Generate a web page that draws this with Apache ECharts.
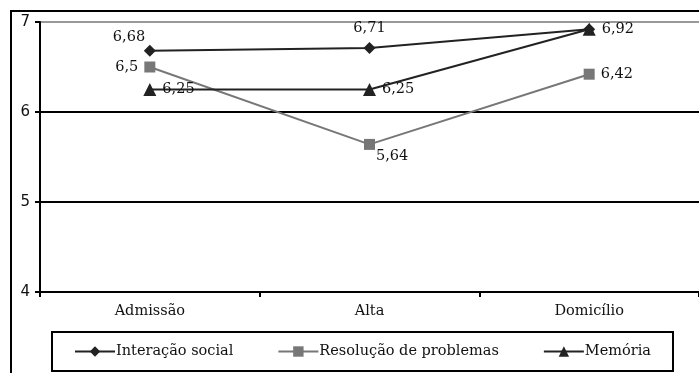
<!DOCTYPE html>
<html><head><meta charset="utf-8">
<script src="https://cdn.jsdelivr.net/npm/echarts@6/dist/echarts.min.js"></script>
<style>html,body{margin:0;padding:0;background:#fff}#c{width:699px;height:373px}</style>
</head><body><div id="c"></div>
<script>
const categories = ['Admissão', 'Alta', 'Domicílio'];
const interacaoSocial = [6.68, 6.71, 6.92];
const resolucaoProblemas = [6.5, 5.64, 6.42];
const memoria = [6.25, 6.25, 6.92];
const yTicks = [4, 5, 6, 7];

const FONT = '"DejaVu Serif", serif';
const FS = 14.5;
const fmt = p => String(p.value).replace('.', ',');
function labels(positions, show) {
  return positions.map((pos, i) => ({ pos, show: show ? show[i] : true }));
}
function buildData(vals, lab) {
  return vals.map((v, i) => ({
    value: v,
    label: { show: lab[i].show, position: lab[i].pos, distance: 6 }
  }));
}
const chart = echarts.init(document.getElementById('c'));
chart.setOption({
  animation: false,
  textStyle: { fontFamily: FONT },
  grid: { left: 40, right: -1, top: 22, bottom: 81 },
  graphic: [{
    type: 'rect', shape: { x: 11, y: 11, width: 720, height: 420 },
    style: { fill: 'none', stroke: '#000', lineWidth: 2 }, z: 100
  }],
  xAxis: {
    type: 'category', data: categories, boundaryGap: true,
    axisLine: { lineStyle: { color: '#000', width: 2 } },
    axisTick: { show: true, length: 5, lineStyle: { color: '#000', width: 2 } },
    axisLabel: { color: '#111', fontSize: FS, fontFamily: FONT, margin: 12 }
  },
  yAxis: {
    type: 'value', min: 4, max: 7, interval: 1,
    axisLine: { show: true, lineStyle: { color: '#000', width: 2 } },
    axisTick: { show: true, length: 5, lineStyle: { color: '#000', width: 2 } },
    axisLabel: { color: '#111', fontSize: 15, fontFamily: '"DejaVu Sans"', margin: 10,
      formatter: v => yTicks.includes(v) ? String(v) : '' },
    splitLine: { show: true, lineStyle: { color: ['#000', '#000', '#000', '#999'], width: 2 } }
  },
  legend: {
    left: 52, top: 332, itemWidth: 40, itemHeight: 13, itemGap: 44,
    padding: [12, 22, 12, 22], borderColor: '#000', borderWidth: 2,
    textStyle: { color: '#111', fontSize: FS, fontFamily: FONT, padding: [0, 0, 0, -4] },
    data: ['Interação social', 'Resolução de problemas', 'Memória']
  },
  series: [
    {
      name: 'Interação social', type: 'line', symbol: 'diamond', symbolSize: 12,
      itemStyle: { color: '#222' }, lineStyle: { color: '#222', width: 2 },
      label: { show: true, color: '#111', fontSize: FS, fontFamily: FONT, formatter: fmt },
      data: buildData(interacaoSocial, labels([[-31, -15], 'top', 'right'], [true, true, false])),
      z: 3
    },
    {
      name: 'Resolução de problemas', type: 'line', symbol: 'rect', symbolSize: 11,
      itemStyle: { color: '#777' }, lineStyle: { color: '#777', width: 2 },
      label: { show: true, color: '#111', fontSize: FS, fontFamily: FONT, formatter: fmt },
      data: buildData(resolucaoProblemas, labels(['left', [12, 10], 'right'])),
      z: 2
    },
    {
      name: 'Memória', type: 'line', symbol: 'triangle', symbolSize: 13,
      itemStyle: { color: '#222' }, lineStyle: { color: '#222', width: 2 },
      label: { show: true, color: '#111', fontSize: FS, fontFamily: FONT, formatter: fmt },
      data: buildData(memoria, labels(['right', 'right', 'right'])),
      z: 4
    }
  ]
});
</script></body></html>
